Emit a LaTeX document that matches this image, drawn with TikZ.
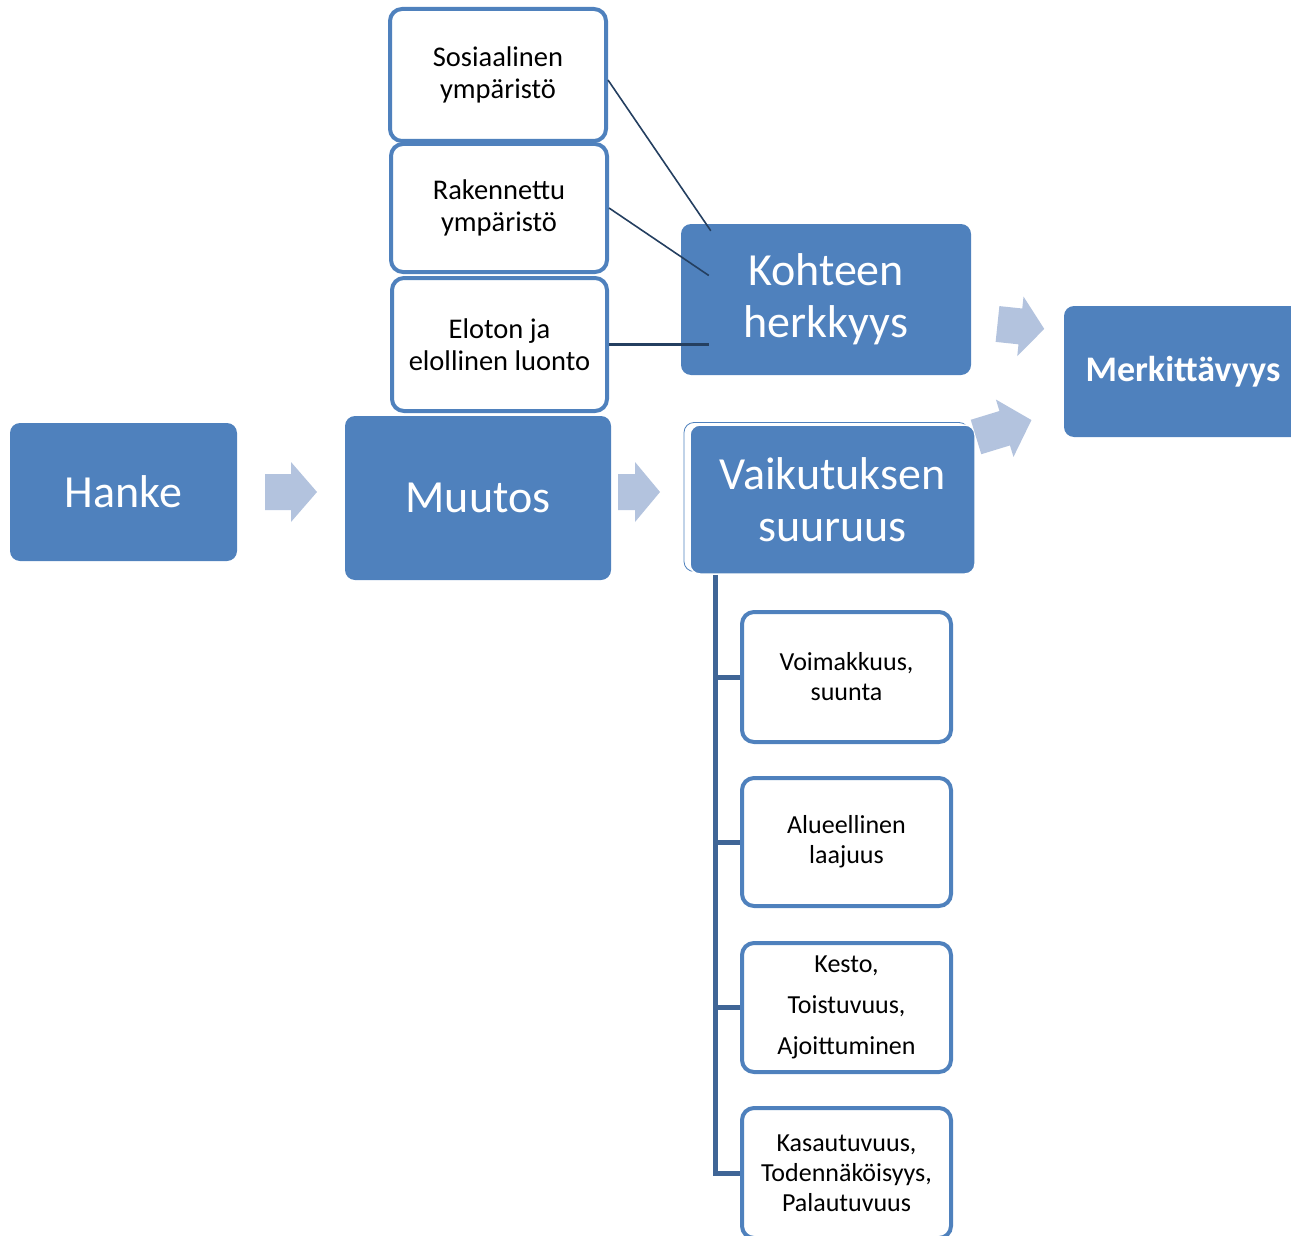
\documentclass[tikz,border=0pt]{standalone}
\usepackage{fontspec}
\setmainfont{Carlito}

\definecolor{boxblue}{HTML}{4F81BD}
\definecolor{arrowblue}{HTML}{B3C3DE}
\definecolor{linkblue}{HTML}{243F60}
\definecolor{treeblue}{HTML}{3F6596}

% fat arrow: x, y, angle, shaft length, head length
\newcommand{\blockarrow}[5]{%
  \fill[arrowblue, shift={(#1,#2)}, rotate=#3] (0,-18) -- (#4,-18) -- (#4,-30) -- (#4+#5,0) -- (#4,30) -- (#4,18) -- (0,18) -- cycle;}

\begin{document}
\begin{tikzpicture}[x=1pt, y=-1pt,
    bigbox/.style={fill=boxblue, text=white, rounded corners=10pt, inner sep=0pt, align=center, font=\fontsize{46}{52}\selectfont},
    smallbox/.style={draw=boxblue, line width=4pt, fill=white, rounded corners=12pt, inner sep=0pt, align=center, font=\fontsize{28.5}{32}\selectfont},
    subbox/.style={smallbox, minimum width=209pt, minimum height=130pt, font=\fontsize{26}{30}\selectfont},
    link/.style={draw=linkblue, line width=1.6pt},
    tree/.style={draw=treeblue, line width=5pt}]

    \useasboundingbox (0,0) rectangle (1291,1236);

    % left row
    \node (hanke) at (123.5,492) [bigbox, minimum width=227pt, minimum height=138pt] {Hanke};
    \node (muutos) at (478,498) [bigbox, minimum width=266pt, minimum height=164pt] {Muutos};

    % receptors
    \node (sos) at (498,75) [smallbox, minimum width=216pt, minimum height=132pt] {Sosiaalinen\\ympäristö};
    \node (rak) at (499,208) [smallbox, minimum width=216pt, minimum height=128pt] {Rakennettu\\ympäristö};
    \node (elo) at (499.5,344.5) [smallbox, minimum width=215pt, minimum height=133pt] {Eloton ja\\elollinen luonto};

    \node (kohde) at (826,299.5) [bigbox, minimum width=290pt, minimum height=151pt] {Kohteen\\herkkyys};

    \node (vaikb) at (826.5,497) [draw=boxblue, line width=0.8pt, rounded corners=10pt, minimum width=285pt, minimum height=149pt] {};
    \node (vaik) at (832.5,499.5) [bigbox, draw=white, line width=1.5pt, minimum width=285pt, minimum height=149pt] {Vaikutuksen\\suuruus};

    \node (merk) at (1183,371.5) [bigbox, minimum width=238pt, minimum height=131pt, font=\fontsize{36}{42}\selectfont\bfseries] {Merkittävyys};

    \draw [link] ([yshift=-5pt]sos.east) -- ([shift={(30pt,-7pt)}]kohde.north west);
    \draw [link] (rak.east) -- ([shift={(28pt,24pt)}]kohde.west);
    \draw [link, line width=2.4pt] (elo.east) -- ([xshift=28pt]elo.east -| kohde.west);

    % magnitude criteria
    \node (v1) at (846.5,677) [subbox] {Voimakkuus,\\suunta};
    \node (v2) at (846.5,842) [subbox, minimum height=128pt] {Alueellinen\\laajuus};
    \node (v3) at (846.5,1007.5) [subbox, minimum height=129pt, font=\fontsize{26}{41}\selectfont] {Kesto,\\Toistuvuus,\\Ajoittuminen};
    \node (v4) at (846.5,1173) [subbox] {Kasautuvuus,\\Todennäköisyys,\\Palautuvuus};

    \coordinate (tr) at ([xshift=26pt]vaik.south west);
    \draw [tree] (tr) |- (v4.west);
    \foreach \b in {v1,v2,v3}
        \draw [tree] (\b.west) -- (\b.west -| tr);

    % fat arrows
    \blockarrow{265}{492}{0}{26}{26}
    \blockarrow{618}{492}{0}{17}{25}
    \blockarrow{997.5}{324}{-6}{23}{24}
    \blockarrow{976}{437}{17}{30}{28}

\end{tikzpicture}
\end{document}
